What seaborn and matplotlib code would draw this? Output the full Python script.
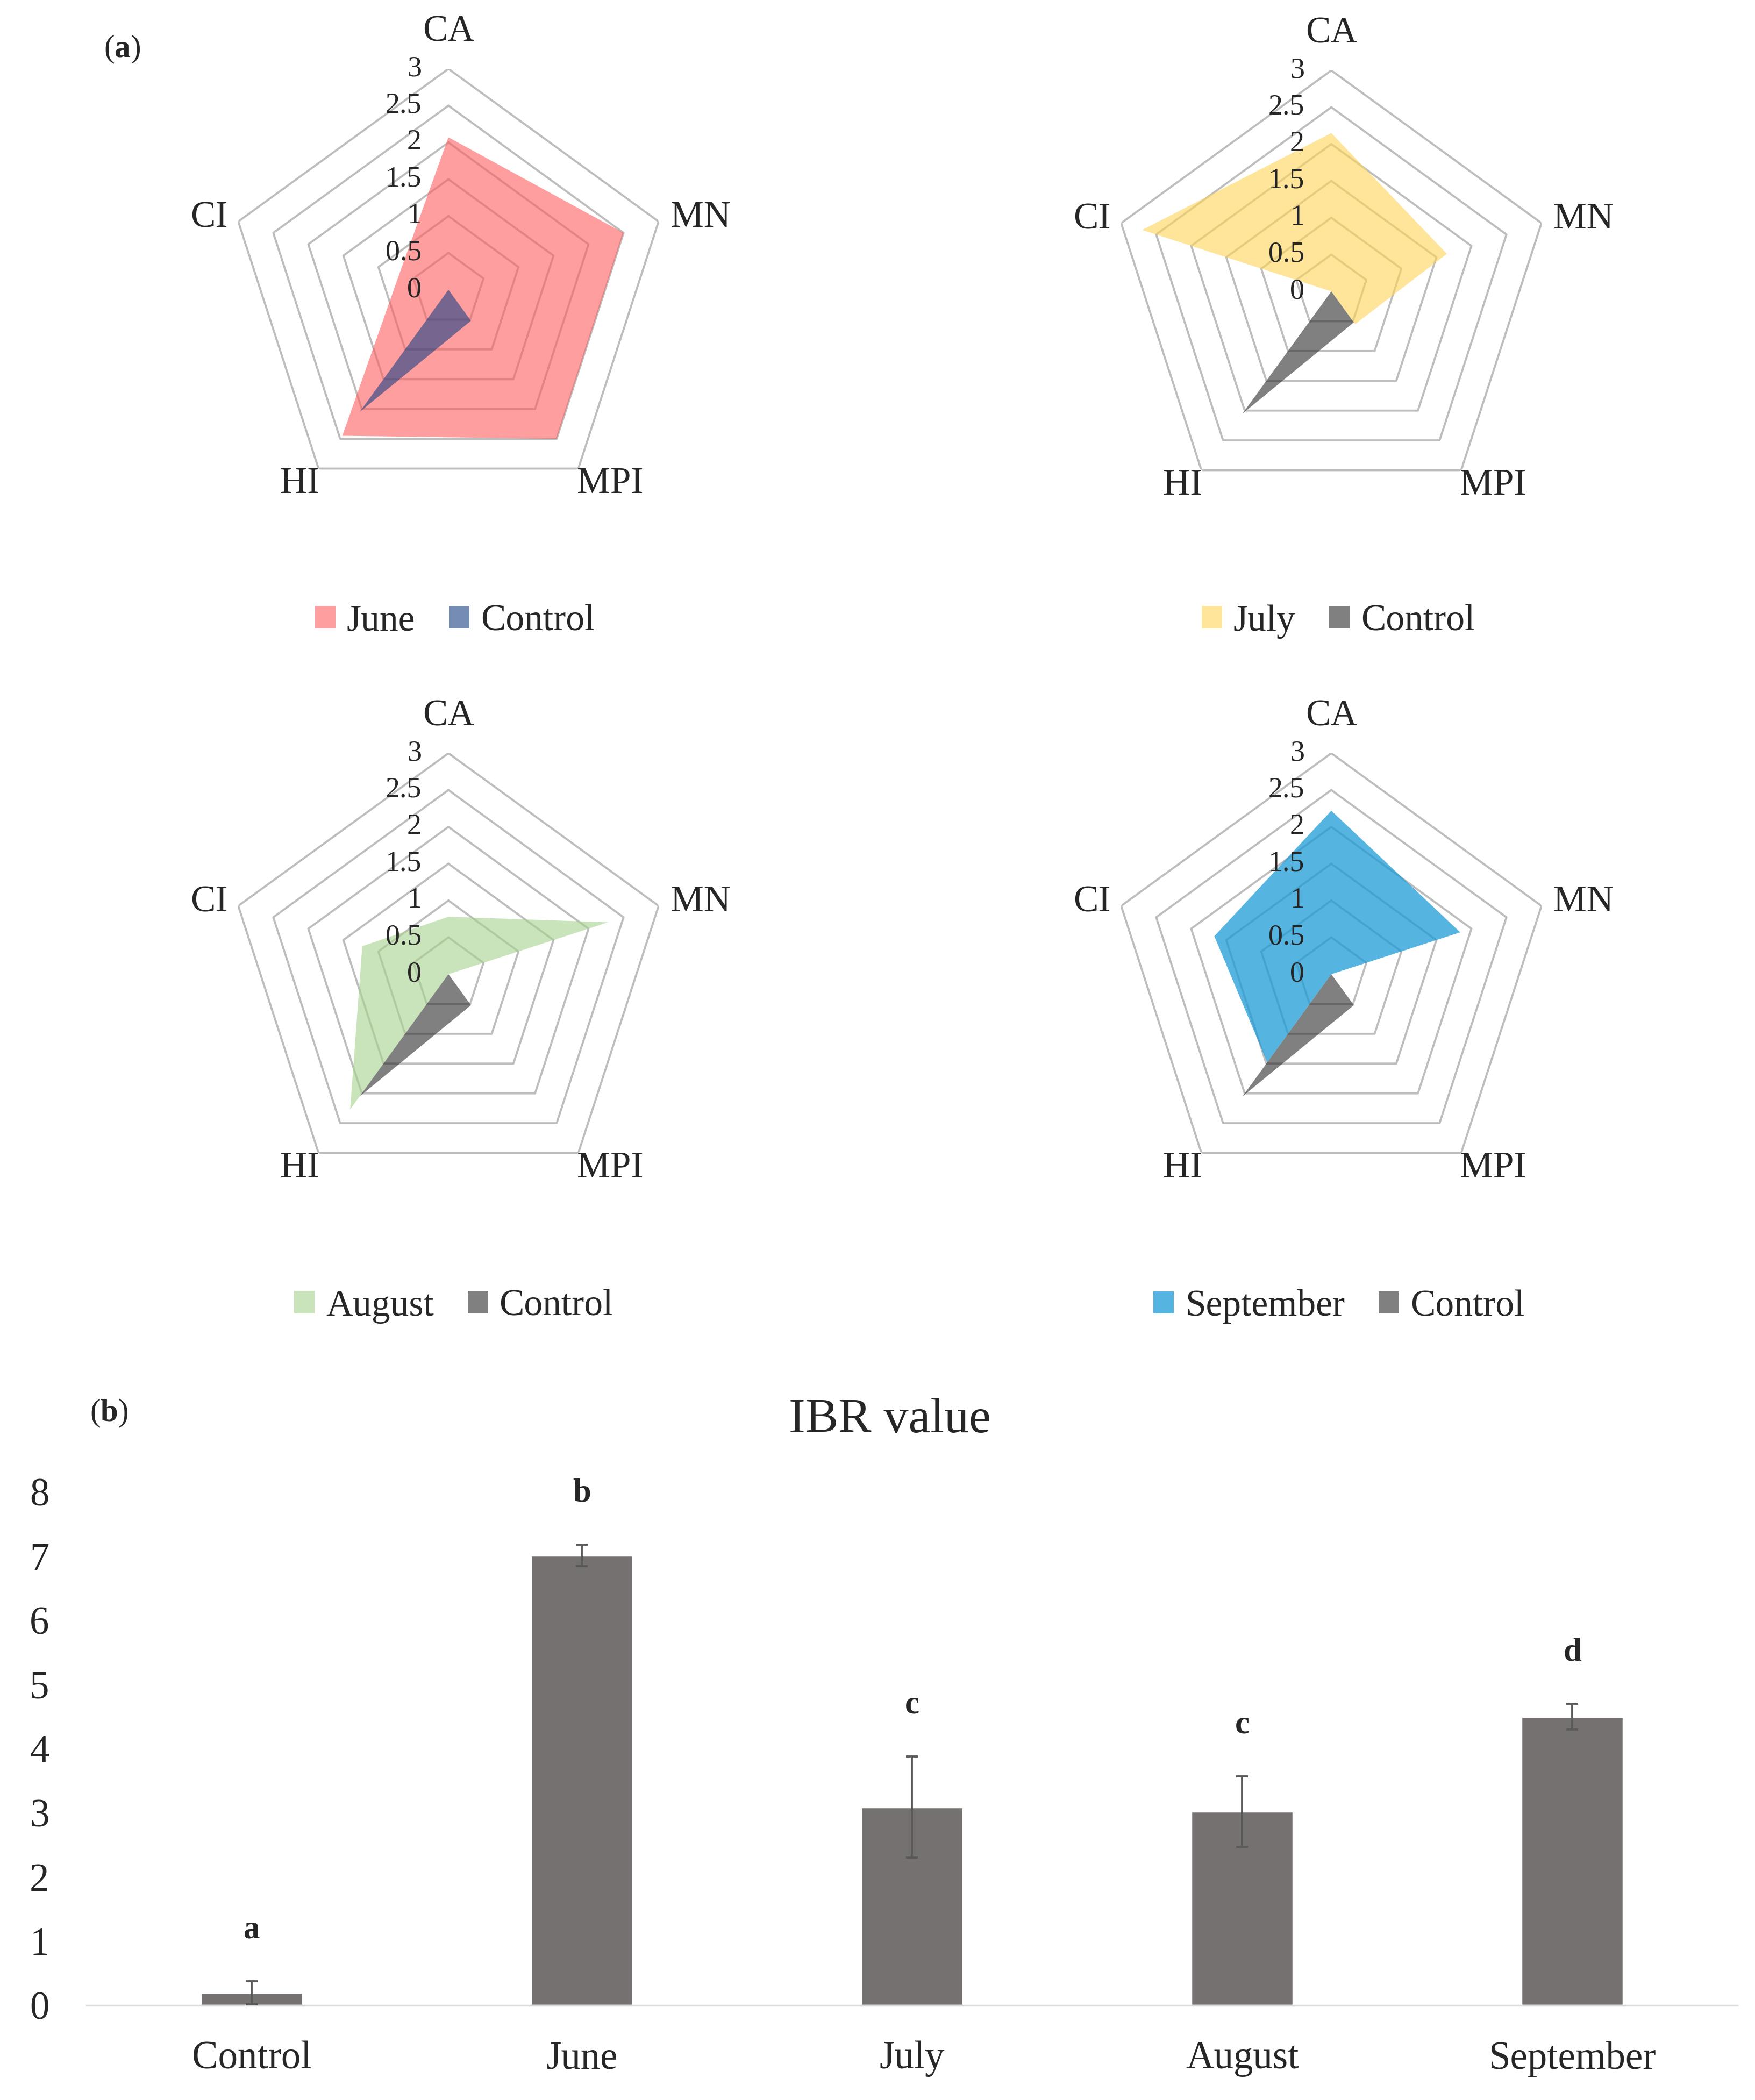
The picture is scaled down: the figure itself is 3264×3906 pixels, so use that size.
import numpy as np
import matplotlib
matplotlib.use("Agg")
import matplotlib.pyplot as plt
import matplotlib.transforms as mtransforms
import seaborn as sns

# radar data
axes_labels = ["CA", "MN", "MPI", "HI", "CI"]
grid_levels = [0.5, 1, 1.5, 2, 2.5, 3]
tick_labels = ["0", "0.5", "1", "1.5", "2", "2.5", "3"]
control_vals = [0.0, 0.0, 0.52, 2.05, 0.0]
june_vals = [2.07, 2.5, 2.5, 2.45, 0.7]
july_vals = [2.15, 1.65, 0.55, 0.0, 2.7]
august_vals = [0.78, 2.28, 0.0, 2.27, 1.23]
september_vals = [2.22, 1.84, 0.0, 1.48, 1.67]

months = ["June", "July", "August", "September"]
month_vals = [june_vals, july_vals, august_vals, september_vals]
month_colors = ["#FF5D5D", "#FFD555", "#A6D38C", "#1C9BD6"]
month_alpha = [0.6, 0.6, 0.6, 0.75]
control_colors = ["#1A3F85", "#2B2B2B", "#2B2B2B", "#2B2B2B"]

# bar chart data
bar_labels = ["Control", "June", "July", "August", "September"]
ibr_mean = [0.2, 7.01, 3.09, 3.02, 4.5]
ibr_err = [0.18, 0.17, 0.79, 0.55, 0.2]
ibr_letters = ["a", "b", "c", "c", "d"]

sns.set_theme(style="white")
plt.rcParams["font.family"] = ["Liberation Serif", "DejaVu Serif"]
plt.rcParams["mathtext.fontset"] = "custom"
plt.rcParams["mathtext.rm"] = "Liberation Serif"
plt.rcParams["mathtext.bf"] = "Liberation Serif:bold"

W, H, DPI = 3264, 3906, 250
fig = plt.figure(figsize=(W / DPI, H / DPI), dpi=DPI)
fig.patch.set_facecolor("white")

theta = np.deg2rad(np.arange(0, 360, 72))
theta_c = np.append(theta, theta[0])

# centres of the four radars in pixels, radius of level 3
centres = [(834, 539), (2476, 542), (834, 1812), (2476, 1812)]
R = 411
legend_pos = [(846, 1156), (2489, 1156), (844, 2430), (2490, 2430)]

label_spec = [
    (3.27, "center", "bottom"),
    (3.17, "left", "center"),
    (2.97, "left", "top"),
    (2.97, "right", "top"),
    (3.15, "right", "center"),
]

for k in range(4):
    cx, cy = centres[k]
    ax = fig.add_axes([(cx - R) / W, 1 - (cy + R) / H, 2 * R / W, 2 * R / H],
                      projection="polar")
    ax.set_theta_zero_location("N")
    ax.set_theta_direction(-1)
    ax.set_ylim(0, 3)
    ax.grid(False)
    ax.set_xticks([])
    ax.set_yticks([])
    ax.spines["polar"].set_visible(False)
    ax.patch.set_alpha(0)

    for lv in grid_levels:
        ax.plot(theta_c, [lv] * 6, color="#bdbdbd", lw=1.1, zorder=1)

    v = month_vals[k]
    mp = ax.fill(theta_c, v + [v[0]], color=month_colors[k], alpha=month_alpha[k],
                 lw=0, zorder=2, label=months[k])[0]
    cp = ax.fill(theta_c, control_vals + [control_vals[0]], color=control_colors[k],
                 alpha=0.6, lw=0, zorder=3, label="Control")[0]

    for name, ang, (rr, ha, va) in zip(axes_labels, theta, label_spec):
        ax.text(ang, rr, name, ha=ha, va=va, fontsize=20, clip_on=False)

    off = mtransforms.offset_copy(ax.transData, fig=fig, x=-50, y=0, units="dots")
    for i, t in enumerate(tick_labels):
        ax.text(0, i * 0.5, t, transform=off, ha="right", va="center",
                fontsize=15.5, clip_on=False, zorder=5)

    lx, ly = legend_pos[k]
    ax.legend(handles=[mp, cp], loc="center", bbox_to_anchor=(lx / W, 1 - ly / H),
              bbox_transform=fig.transFigure, ncol=2, frameon=False, fontsize=20,
              handlelength=0.55, handleheight=0.55, handletextpad=0.3,
              columnspacing=0.9)

fig.text(227 / W, 1 - 92 / H, r"($\mathbf{a}$)", ha="center", va="center", fontsize=17)

# bar chart
bx = fig.add_axes([161 / W, 1 - 3730 / H, 3070 / W, 955 / H])
sns.barplot(x=bar_labels, y=ibr_mean, color="#767171", saturation=1, width=0.31, ax=bx)
bx.errorbar(range(len(bar_labels)), ibr_mean, yerr=ibr_err, fmt="none",
            ecolor="#595959", elinewidth=1.1, capsize=3.2, capthick=1.1, zorder=4)
for i, (m, e, t) in enumerate(zip(ibr_mean, ibr_err, ibr_letters)):
    bx.text(i, m + e + 0.8, t, ha="center", va="center", fontsize=17.5,
            fontweight="bold", clip_on=False)
bx.set_ylim(0, 8)
bx.set_xlim(-0.5, 4.5)
bx.set_yticks(range(0, 9))
bx.set_xlabel("")
bx.set_ylabel("")
for s in ["top", "right", "left"]:
    bx.spines[s].set_visible(False)
bx.spines["bottom"].set_color("#d9d9d9")
bx.spines["bottom"].set_linewidth(1.0)
bx.tick_params(axis="y", length=0, pad=20, labelsize=21)
bx.tick_params(axis="x", length=0, pad=19, labelsize=21)
bx.patch.set_alpha(0)

fig.text(1655 / W, 1 - 2642 / H, "IBR value", ha="center", va="center", fontsize=26.5)
fig.text(203 / W, 1 - 2629 / H, r"($\mathbf{b}$)", ha="center", va="center", fontsize=17)

fig.savefig("out.png", dpi=DPI)
